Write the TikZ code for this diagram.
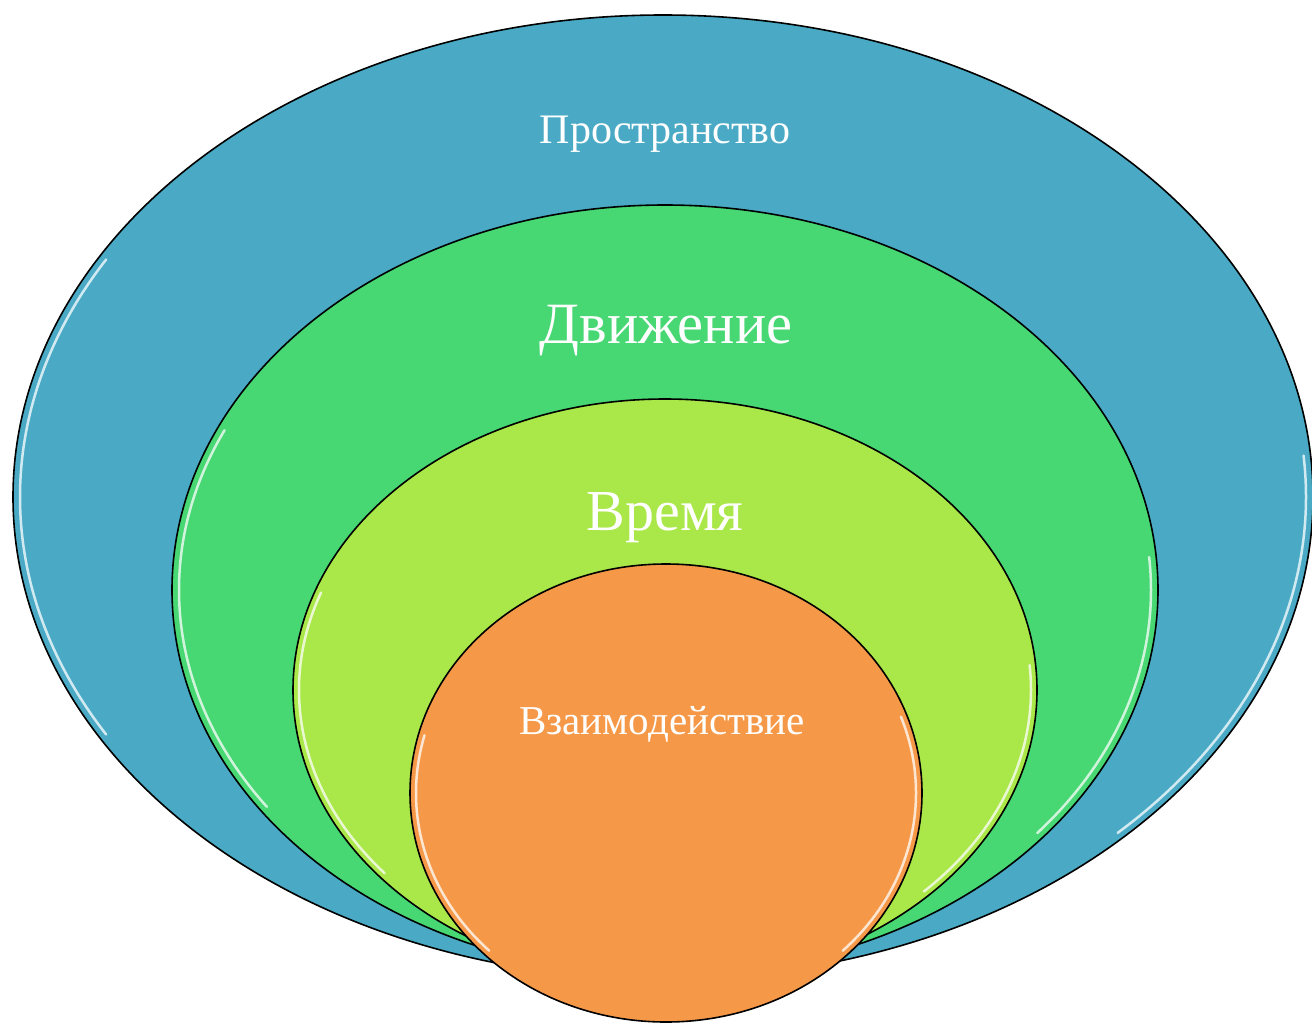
\documentclass[tikz,border=0pt]{standalone}
\usepackage{fontspec}
\setmainfont{Liberation Serif}
\usetikzlibrary{shapes.geometric}
\definecolor{cblue}{RGB}{74,170,197}
\definecolor{cgreen}{RGB}{71,215,115}
\definecolor{clime}{RGB}{170,231,73}
\definecolor{corange}{RGB}{245,153,73}
\tikzset{
  layer/.style={ellipse, draw=black, line width=1.6pt, inner sep=0pt},
  hl/.style={white, opacity=0.75, line width=2.5pt, line cap=round},
  lbl/.style={text=white, inner sep=0pt, anchor=base}
}
\begin{document}
\begin{tikzpicture}[x=1pt,y=-1pt]
\useasboundingbox (0,0) rectangle (1312,1023);
\clip (0,0) rectangle (1312,1023);
\fill[white] (0,0) rectangle (1312,1023);
% outer
\node[layer, fill=cblue, minimum width=1300pt, minimum height=964pt] (sp) at (663,497) {};
\draw[hl] (663,497) ++(150:643 and 475) arc[start angle=150, end angle=210, x radius=643, y radius=475];
\draw[hl] (663,497) ++(-5:643 and 475) arc[start angle=-5, end angle=45, x radius=643, y radius=475];
% green
\node[layer, fill=cgreen, minimum width=986pt, minimum height=770pt] (dv) at (665,590) {};
\draw[hl] (665,590) ++(145:486 and 378) arc[start angle=145, end angle=205, x radius=486, y radius=378];
\draw[hl] (665,590) ++(-5:486 and 378) arc[start angle=-5, end angle=40, x radius=486, y radius=378];
% lime
\node[layer, fill=clime, minimum width=744pt, minimum height=582pt] (vr) at (665,690) {};
\draw[hl] (665,690) ++(140:366 and 285) arc[start angle=140, end angle=200, x radius=366, y radius=285];
\draw[hl] (665,690) ++(-5:366 and 285) arc[start angle=-5, end angle=45, x radius=366, y radius=285];
% orange
\node[layer, fill=corange, minimum width=512pt, minimum height=458pt] (vz) at (666,793) {};
\draw[hl] (666,793) ++(135:250 and 223) arc[start angle=135, end angle=195, x radius=250, y radius=223];
\draw[hl] (666,793) ++(-20:250 and 223) arc[start angle=-20, end angle=45, x radius=250, y radius=223];
% labels
\node[lbl, font=\fontsize{42}{48}\selectfont] (t1) at (665,143) {Пространство};
\node[lbl, font=\fontsize{58.5}{66}\selectfont] (t2) at (666,343) {Движение};
\node[lbl, font=\fontsize{58}{66}\selectfont] (t3) at (665,530) {Время};
\node[lbl, font=\fontsize{41}{47}\selectfont] (t4) at (662,734) {Взаимодействие};
\end{tikzpicture}
\end{document}
